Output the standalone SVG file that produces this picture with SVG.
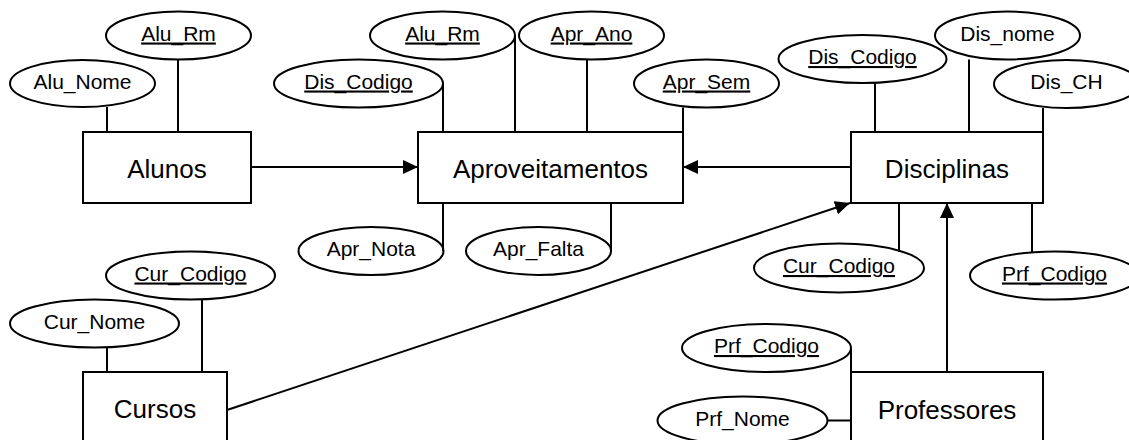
<svg xmlns="http://www.w3.org/2000/svg" width="1129" height="440" viewBox="0 0 1129 440">
<style>
.ent{fill:#fff;stroke:#000;stroke-width:2}
.att{fill:#fff;stroke:#000;stroke-width:2}
.et{font-family:"Liberation Sans",Arial,sans-serif;font-size:26px;text-anchor:middle;fill:#000}
.at{font-family:"Liberation Sans",Arial,sans-serif;font-size:21px;text-anchor:middle;fill:#000}
.key{text-decoration:underline}
.ln{stroke:#000;stroke-width:2;fill:none}
.ar{stroke:#000;stroke-width:2;fill:none;marker-end:url(#arr)}
</style>
<defs>
<marker id="arr" markerUnits="userSpaceOnUse" markerWidth="16" markerHeight="16" refX="15" refY="7" orient="auto">
<path d="M0,0 L15,7 L0,14 z" fill="#000"/>
</marker>
</defs>
<rect width="1129" height="440" fill="#fff"/>
<g id="nodes">
<g id="alunos"><rect class="ent" x="83" y="132" width="168" height="71"/><text class="et" x="167" y="178">Alunos</text></g>
<g id="aproveitamentos"><rect class="ent" x="418" y="132" width="265" height="71"/><text class="et" x="550.5" y="178">Aproveitamentos</text></g>
<g id="disciplinas"><rect class="ent" x="851" y="132" width="192" height="71"/><text class="et" x="947" y="178">Disciplinas</text></g>
<g id="cursos"><rect class="ent" x="83" y="372" width="144" height="71"/><text class="et" x="155" y="418">Cursos</text></g>
<g id="professores"><rect class="ent" x="851" y="372" width="192" height="71"/><text class="et" x="947" y="419">Professores</text></g>

<g id="alu_rm_1"><ellipse class="att" cx="178.5" cy="35.5" rx="72.5" ry="24"/><text class="at key" x="178.5" y="40.5">Alu_Rm</text></g>
<g id="alu_nome"><ellipse class="att" cx="82.5" cy="83.5" rx="72.5" ry="23.5"/><text class="at" x="82.5" y="88.5">Alu_Nome</text></g>
<g id="alu_rm_2"><ellipse class="att" cx="442.5" cy="35.5" rx="72.5" ry="24"/><text class="at key" x="442.5" y="40.5">Alu_Rm</text></g>
<g id="dis_codigo_1"><ellipse class="att" cx="358.5" cy="83.5" rx="84.5" ry="24"/><text class="at key" x="358.5" y="88.5">Dis_Codigo</text></g>
<g id="apr_ano"><ellipse class="att" cx="591.5" cy="35.5" rx="72.5" ry="24"/><text class="at key" x="591.5" y="40.5">Apr_Ano</text></g>
<g id="apr_sem"><ellipse class="att" cx="706.5" cy="83.5" rx="72.5" ry="24"/><text class="at key" x="706.5" y="88.5">Apr_Sem</text></g>
<g id="apr_nota"><ellipse class="att" cx="371" cy="251" rx="72.5" ry="24"/><text class="at" x="371" y="256">Apr_Nota</text></g>
<g id="apr_falta"><ellipse class="att" cx="538.5" cy="251" rx="72.5" ry="24"/><text class="at" x="538.5" y="256">Apr_Falta</text></g>
<g id="dis_codigo_2"><ellipse class="att" cx="862.5" cy="59" rx="84" ry="24"/><text class="at key" x="862.5" y="64">Dis_Codigo</text></g>
<g id="dis_nome"><ellipse class="att" cx="1007.5" cy="35.5" rx="72.5" ry="24"/><text class="at" x="1007.5" y="40.5">Dis_nome</text></g>
<g id="dis_ch"><ellipse class="att" cx="1066.5" cy="84" rx="72.5" ry="24"/><text class="at" x="1066.5" y="89">Dis_CH</text></g>
<g id="cur_codigo_1"><ellipse class="att" cx="839" cy="268" rx="85" ry="24.5"/><text class="at key" x="839" y="273">Cur_Codigo</text></g>
<g id="prf_codigo_1"><ellipse class="att" cx="1054.5" cy="275.5" rx="84.5" ry="24"/><text class="at key" x="1054.5" y="280.5">Prf_Codigo</text></g>
<g id="cur_codigo_2"><ellipse class="att" cx="190.5" cy="275.5" rx="84.5" ry="24"/><text class="at key" x="190.5" y="280.5">Cur_Codigo</text></g>
<g id="cur_nome"><ellipse class="att" cx="94.5" cy="323.5" rx="84.5" ry="24"/><text class="at" x="94.5" y="328.5">Cur_Nome</text></g>
<g id="prf_codigo_2"><ellipse class="att" cx="766.5" cy="348" rx="84.5" ry="24"/><text class="at key" x="766.5" y="353">Prf_Codigo</text></g>
<g id="prf_nome"><ellipse class="att" cx="742.5" cy="420.5" rx="85" ry="24"/><text class="at" x="742.5" y="425.5">Prf_Nome</text></g>
</g>
<g id="connectors">
<line class="ln" x1="107" y1="107" x2="107" y2="132"/>
<line class="ln" x1="178" y1="59.5" x2="178" y2="132"/>
<line class="ln" x1="443" y1="83.5" x2="443" y2="132"/>
<line class="ln" x1="515" y1="35.5" x2="515" y2="132"/>
<line class="ln" x1="587" y1="59.5" x2="587" y2="132"/>
<line class="ln" x1="683" y1="107.5" x2="683" y2="132"/>
<line class="ln" x1="443" y1="203" x2="443" y2="251"/>
<line class="ln" x1="611" y1="203" x2="611" y2="251"/>
<line class="ln" x1="875" y1="83" x2="875" y2="132"/>
<line class="ln" x1="969" y1="59.5" x2="969" y2="132"/>
<line class="ln" x1="1043" y1="108" x2="1043" y2="132"/>
<line class="ln" x1="899" y1="203" x2="899" y2="252"/>
<line class="ln" x1="1032" y1="203" x2="1032" y2="252"/>
<line class="ln" x1="107" y1="347.5" x2="107" y2="372"/>
<line class="ln" x1="202" y1="299.5" x2="202" y2="372"/>
<line class="ln" x1="851" y1="348" x2="851" y2="372"/>
<line class="ln" x1="827.5" y1="420.5" x2="851" y2="420.5"/>
<line class="ar" x1="251" y1="167" x2="418" y2="167"/>
<line class="ar" x1="851" y1="167" x2="683" y2="167"/>
<line class="ar" x1="227" y1="410" x2="850" y2="203"/>
<line class="ar" x1="947" y1="372" x2="947" y2="203"/>
</g>
</svg>
